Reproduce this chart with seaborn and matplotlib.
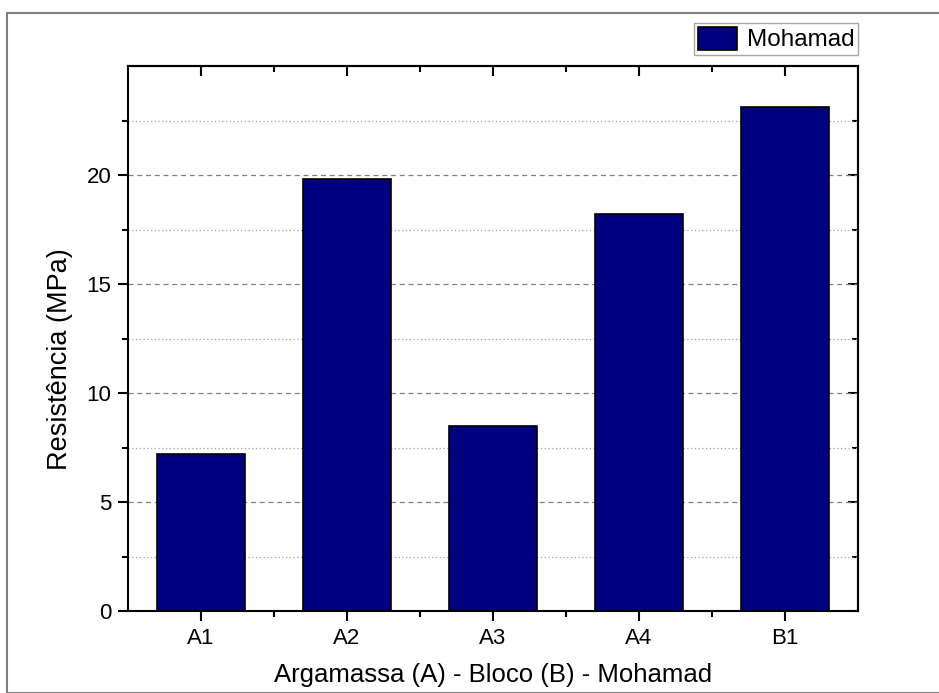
import matplotlib
matplotlib.use("Agg")
import matplotlib.pyplot as plt
import seaborn as sns
import pandas as pd
from matplotlib.ticker import FixedLocator
from matplotlib.patches import Rectangle

categories = ["A1", "A2", "A3", "A4", "B1"]
values = [7.2, 19.8, 8.5, 18.2, 23.1]
series_name = "Mohamad"
y_major = [0, 5, 10, 15, 20]
y_minor = [2.5, 7.5, 12.5, 17.5, 22.5]

sns.set_theme(style="white")
plt.rcParams['font.family'] = ['Liberation Sans', 'DejaVu Sans']
plt.rcParams['xtick.labelsize'] = 16
plt.rcParams['ytick.labelsize'] = 16

df = pd.DataFrame({"cat": categories, "val": values, "serie": series_name})

fig = plt.figure(figsize=(9.39, 6.93), dpi=100)
ax = fig.add_axes([128/939, 1-611/693, 730/939, 545/693])

sns.barplot(data=df, x="cat", y="val", hue="serie", palette=["#000080"],
            width=0.6, edgecolor="black", linewidth=1.2, ax=ax, legend=True,
            saturation=1)

ax.set_xlim(-0.5, 4.5)
ax.set_ylim(0, 25)
ax.yaxis.set_major_locator(FixedLocator(y_major))
ax.yaxis.set_minor_locator(FixedLocator(y_minor))
ax.xaxis.set_minor_locator(FixedLocator([0.5, 1.5, 2.5, 3.5]))

ax.grid(False)
ax.yaxis.grid(True, which="major", linestyle=(0, (4, 3)), color="#808080", linewidth=0.9)
ax.yaxis.grid(True, which="minor", linestyle=(0, (1, 2)), color="#a0a0a0", linewidth=0.9)
ax.set_axisbelow(True)

for s in ax.spines.values():
    s.set_visible(True)
    s.set_color("black")
    s.set_linewidth(1.5)

ax.tick_params(axis="both", which="major", length=7, width=1.5, color="black",
               direction="out", left=True, bottom=True, top=False, right=False,
               pad=5, labelsize=16, labelcolor="black")
ax.tick_params(axis="both", which="minor", length=4, width=1.5, color="black",
               direction="out", left=True, bottom=True, top=False, right=False)
for lbl in ax.get_xticklabels() + ax.get_yticklabels():
    lbl.set_fontsize(16)
    lbl.set_color("black")

ax2 = ax.secondary_xaxis("top")
ax2.set_xticks(range(len(categories)))
ax2.xaxis.set_minor_locator(FixedLocator([0.5, 1.5, 2.5, 3.5]))
ax2.tick_params(which="major", direction="in", length=7, width=1.5, labeltop=False, color="black")
ax2.tick_params(which="minor", direction="in", length=4, width=1.5, color="black")
ax2.set_xticklabels([])
ax2.spines["top"].set_linewidth(1.5)
ax3 = ax.secondary_yaxis("right")
ax3.yaxis.set_major_locator(FixedLocator(y_major))
ax3.yaxis.set_minor_locator(FixedLocator(y_minor))
ax3.tick_params(which="major", direction="in", length=7, width=1.5, labelright=False, color="black")
ax3.tick_params(which="minor", direction="in", length=4, width=1.5, color="black")
ax3.spines["right"].set_linewidth(1.5)

ax.set_xlabel("Argamassa (A) - Bloco (B) - Mohamad", fontsize=18.5, color="black", labelpad=10)
ax.set_ylabel("Resistência (MPa)", fontsize=19.5, color="black")
ax.yaxis.set_label_coords(-0.0755, 0.462)

leg = ax.legend(loc="lower right", bbox_to_anchor=(1.0, 1.02), frameon=True,
                fontsize=17.5, handlelength=1.6, handleheight=1.1, borderpad=0.15,
                handletextpad=0.4, borderaxespad=0, fancybox=False)
leg.get_frame().set_edgecolor("#909090")
leg.get_frame().set_linewidth(1.0)
for t in leg.get_texts():
    t.set_color("black")

fig.patches.append(Rectangle((7/939, 0), 1.2, 1 - 13/693, transform=fig.transFigure,
                             fill=False, edgecolor="#808080", linewidth=1.5))

fig.savefig("out.png", dpi=100, facecolor="white")
